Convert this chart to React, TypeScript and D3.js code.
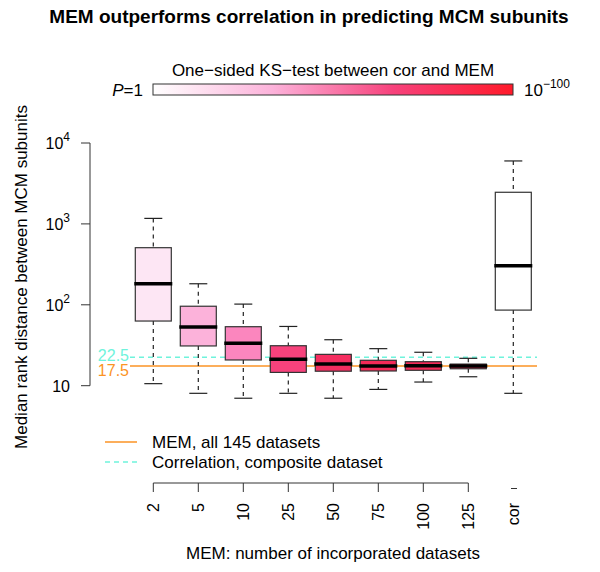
import React from "react";
import * as d3 from "d3";

const categories = ["2", "5", "10", "25", "50", "75", "100", "125", "cor"];
const whiskerLow = [10.6, 8.05, 7.0, 8.05, 7.0, 9.0, 11.1, 12.9, 8.05];
const q1 = [63, 31, 20.8, 14.6, 15.1, 15.2, 15.5, 16.2, 86];
const medians = [182, 53, 33.4, 21.2, 18.5, 17.5, 17.7, 17.5, 304];
const q3 = [508, 96, 53.6, 31.2, 24.4, 20.6, 19.8, 18.5, 2460];
const whiskerHigh = [1170, 182, 102, 54, 37, 28.7, 25.9, 21.8, 6000];
const boxColors = ["#fde6f4", "#fcb2da", "#fb86be", "#f7427c", "#f52e60", "#f42a58", "#f42a58", "#f22a55", "#ffffff"];
const yTickExps = [1, 2, 3, 4];
const memAllValue = 17.5;
const corCompositeValue = 22.5;
const gradientStops = ["#ffffff", "#fcb2da", "#f7427c", "#ff1a2a"];

const FONT = "'Liberation Sans', Arial, Helvetica, sans-serif";
const ORANGE = "#fb9324";
const CYAN = "#6ff3dc";

export default function App() {
  const y = d3.scaleLog().domain([10, 10000]).range([385.7, 143]);
  const x = d3.scalePoint<string>().domain(categories).range([153.3, 513.3]);
  const boxW = 36;
  const capW = 18;
  const memCats = categories.slice(0, 8);

  return (
    <svg width={600} height={572} style={{ position: "absolute", left: 0, top: 0, fontFamily: FONT }}>
      <defs>
        <linearGradient id="ksgrad" x1="0" x2="1" y1="0" y2="0">
          {gradientStops.map((c, i) => (
            <stop key={i} offset={i / (gradientStops.length - 1)} stopColor={c} />
          ))}
        </linearGradient>
      </defs>
      <rect x={0} y={0} width={600} height={572} fill="#fff" />
      {/* title */}
      <text x={309} y={23} textAnchor="middle" fontSize={19} fontWeight="bold" fill="#000">
        MEM outperforms correlation in predicting MCM subunits
      </text>
      {/* color bar */}
      <text x={333} y={76} textAnchor="middle" fontSize={17} fill="#000">
        One−sided KS−test between cor and MEM
      </text>
      <rect x={153} y={84} width={360} height={11} fill="url(#ksgrad)" stroke="#333" strokeWidth={1} />
      <text x={143} y={96} textAnchor="end" fontSize={17} fill="#000">
        <tspan fontStyle="italic">P</tspan>=1
      </text>
      <text x={524} y={96} fontSize={17} fill="#000">
        10<tspan dy={-8} fontSize={12}>−100</tspan>
      </text>

      {/* y axis */}
      <line x1={90} x2={90} y1={y(10)} y2={y(10000)} stroke="#333" strokeWidth={1} />
      {yTickExps.map((e) => {
        const v = Math.pow(10, e);
        return (
          <g key={e}>
            <line x1={81} x2={90} y1={y(v)} y2={y(v)} stroke="#333" strokeWidth={1} />
            <text x={70} y={y(v) + 6} textAnchor="end" fontSize={16} fill="#000">
              {e === 1 ? "10" : <>10<tspan dy={-8} fontSize={12}>{e}</tspan></>}
            </text>
          </g>
        );
      })}
      <text transform="translate(27,277) rotate(-90)" textAnchor="middle" fontSize={17} fill="#000">
        Median rank distance between MCM subunits
      </text>

      {/* reference lines */}
      <line x1={130} x2={537} y1={y(corCompositeValue)} y2={y(corCompositeValue)} stroke={CYAN} strokeWidth={1.5} strokeDasharray="5,4" />
      <line x1={130} x2={537} y1={y(memAllValue)} y2={y(memAllValue)} stroke={ORANGE} strokeWidth={1.5} />
      <text x={129} y={y(corCompositeValue) + 3.5} textAnchor="end" fontSize={16} fill={CYAN}>
        {corCompositeValue.toFixed(1)}
      </text>
      <text x={129} y={y(memAllValue) + 10} textAnchor="end" fontSize={16} fill={ORANGE}>
        {memAllValue.toFixed(1)}
      </text>

      {/* boxes */}
      {categories.map((c, i) => {
        const cx = x(c)!;
        return (
          <g key={c}>
            <line x1={cx} x2={cx} y1={y(whiskerHigh[i])} y2={y(q3[i])} stroke="#222" strokeWidth={1.2} strokeDasharray="4,4" />
            <line x1={cx} x2={cx} y1={y(q1[i])} y2={y(whiskerLow[i])} stroke="#222" strokeWidth={1.2} strokeDasharray="4,4" />
            <line x1={cx - capW / 2} x2={cx + capW / 2} y1={y(whiskerHigh[i])} y2={y(whiskerHigh[i])} stroke="#222" strokeWidth={1.2} />
            <line x1={cx - capW / 2} x2={cx + capW / 2} y1={y(whiskerLow[i])} y2={y(whiskerLow[i])} stroke="#222" strokeWidth={1.2} />
            <rect x={cx - boxW / 2} y={y(q3[i])} width={boxW} height={y(q1[i]) - y(q3[i])} fill={boxColors[i]} stroke="#333" strokeWidth={1.2} />
            <line x1={cx - boxW / 2 - 1} x2={cx + boxW / 2 + 1} y1={y(medians[i])} y2={y(medians[i])} stroke="#000" strokeWidth={3.5} />
          </g>
        );
      })}

      {/* legend */}
      <line x1={105} x2={137} y1={442} y2={442} stroke={ORANGE} strokeWidth={1.5} />
      <line x1={105} x2={137} y1={462} y2={462} stroke={CYAN} strokeWidth={1.5} strokeDasharray="5,4" />
      <text x={152} y={448} fontSize={17} fill="#000">MEM, all 145 datasets</text>
      <text x={152} y={468} fontSize={17} fill="#000">Correlation, composite dataset</text>

      {/* x axis */}
      <line x1={x(memCats[0])!} x2={x(memCats[memCats.length - 1])!} y1={483} y2={483} stroke="#333" strokeWidth={1} />
      {memCats.map((c) => (
        <line key={c} x1={x(c)!} x2={x(c)!} y1={483} y2={492} stroke="#333" strokeWidth={1} />
      ))}
      <line x1={511} x2={517} y1={488.5} y2={488.5} stroke="#333" strokeWidth={1} />
      {categories.map((c) => (
        <text key={c} transform={`translate(${x(c)! + 6},503) rotate(-90)`} textAnchor="end" fontSize={16} fill="#000">
          {c}
        </text>
      ))}
      <text x={333} y={559} textAnchor="middle" fontSize={17} fill="#000">
        MEM: number of incorporated datasets
      </text>
    </svg>
  );
}
